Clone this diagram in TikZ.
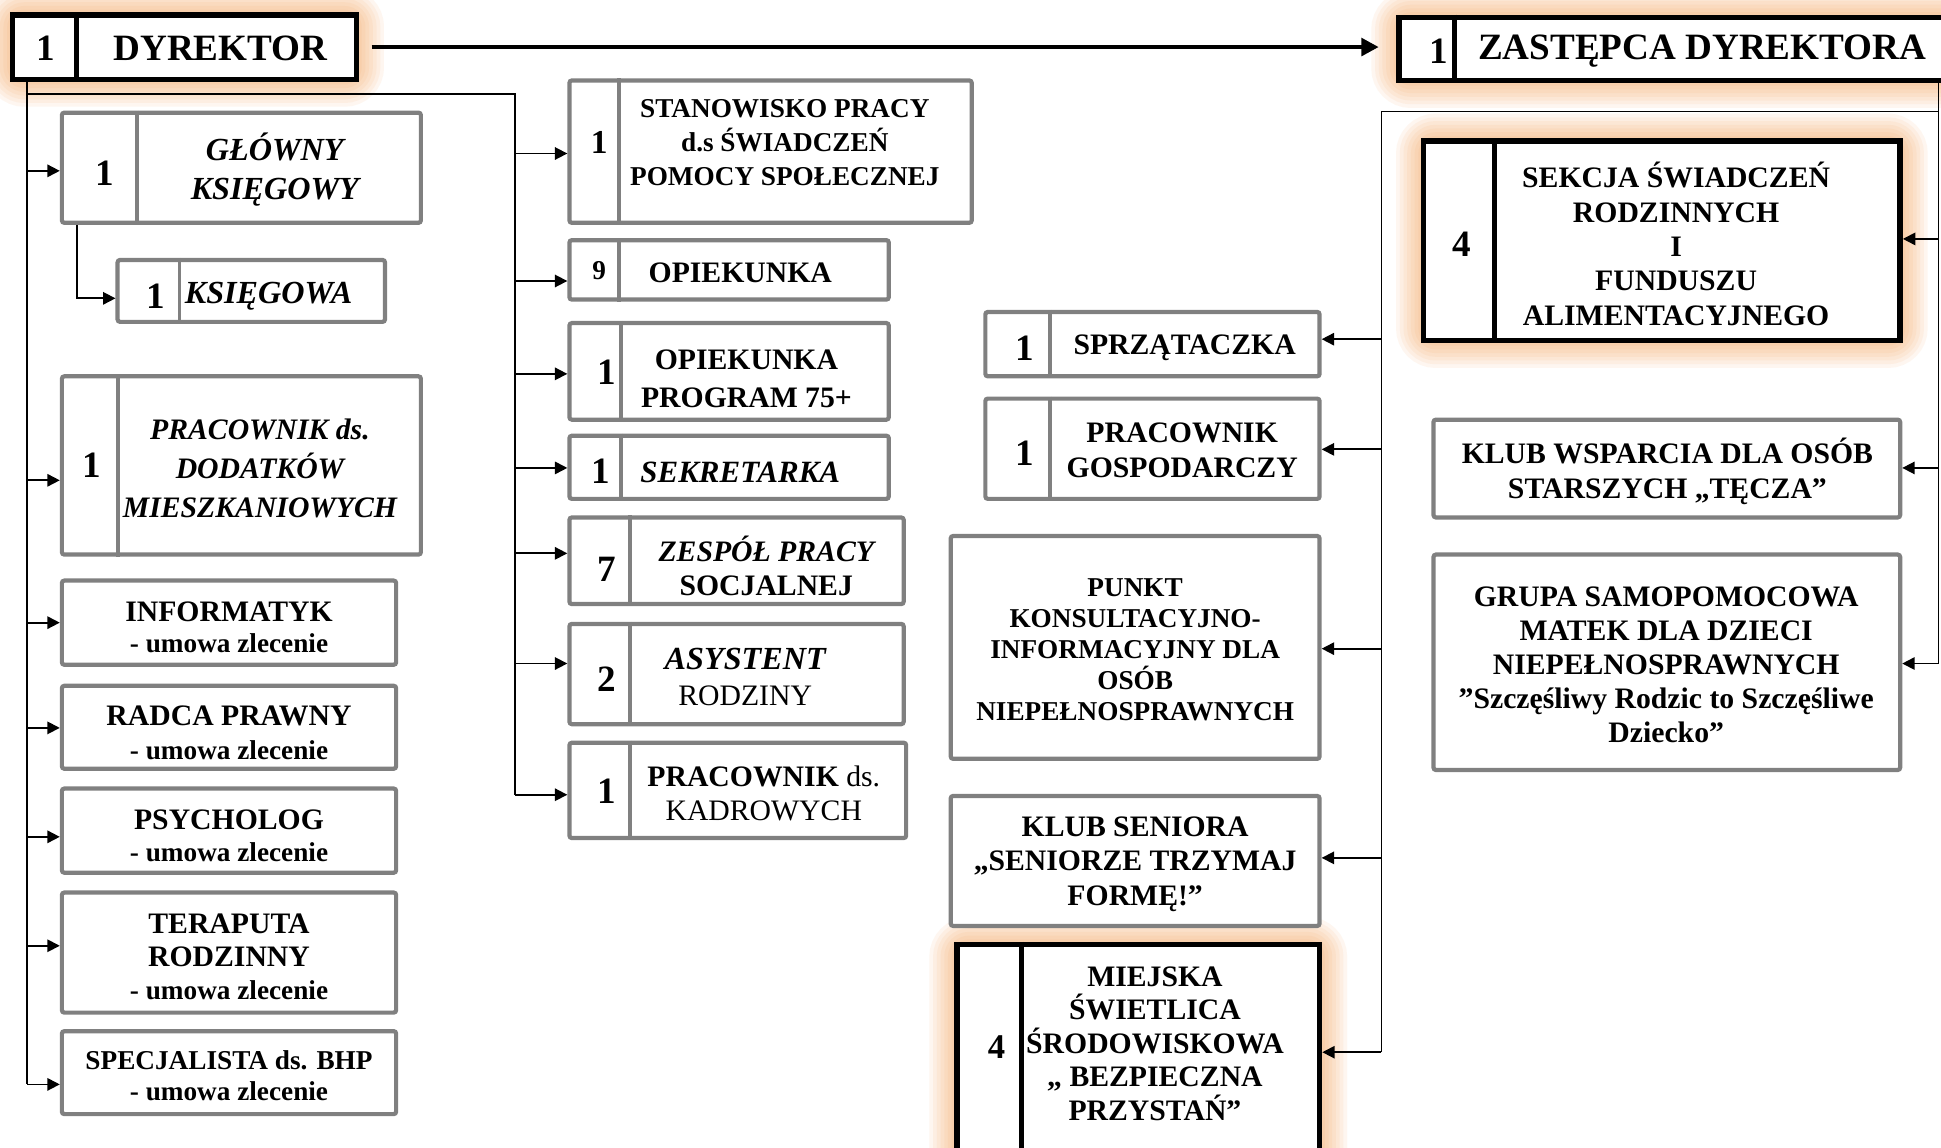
\documentclass[tikz,border=0pt]{standalone}
\usepackage{fontspec}
\setmainfont{Liberation Serif}
\usetikzlibrary{arrows.meta,backgrounds,calc}
\definecolor{bgray}{RGB}{128,128,128}
\definecolor{glowc}{RGB}{247,150,70}
\tikzset{
  gbox/.style={draw=bgray, line width=1.7pt, fill=white, rounded corners=1pt, inner sep=0pt},
  kbox/.style={draw=black, line width=2.2pt, fill=white, inner sep=0pt},
  divg/.style={draw=bgray, line width=1.6pt},
  divk/.style={draw=black, line width=2pt},
  txt/.style={align=center, inner sep=0pt, font=\bfseries\fontsize{12}{14}\selectfont},
  num/.style={inner sep=0pt, font=\bfseries\fontsize{15}{15}\selectfont},
  conn/.style={draw=black, line width=0.7pt},
  arr/.style={conn, -{Triangle[length=5pt,width=5pt]}},
  bigarr/.style={draw=black, line width=1.8pt, -{Triangle[length=7pt,width=7pt]}},
}
\newcommand\mkbox[6]{\node[#2, minimum width={(#5-#3)*0.5pt}, minimum height={(#6-#4)*0.5pt}] (#1) at ({(#3+#5)/2},{(#4+#6)/2}) {};}
\newcommand\dvd[3]{\path (#2,0) coordinate (tmpx); \draw[#3] (#1.north -| tmpx) -- (#1.south -| tmpx);}
\newcommand\glowbox[1]{\begin{pgfonlayer}{background}\foreach \w in {20,17,14,11,8,5,2}{\draw[glowc, line width=\w pt, opacity=0.08, rounded corners=6pt] (#1.north west) rectangle (#1.south east);}\end{pgfonlayer}}
\newcommand\arrW[3]{\path (0,#3) coordinate (tmp); \draw[arr] (#1 |- tmp) -- (#2.west |- tmp);}
\newcommand\arrE[3]{\path (0,#3) coordinate (tmp); \draw[arr] (#1 |- tmp) -- (#2.east |- tmp);}
\begin{document}
\begin{tikzpicture}[x=0.5pt,y=-0.5pt]
\useasboundingbox (0,0) rectangle (1568,927);
\begin{pgfonlayer}{background}
\fill[white] (0,0) rectangle (1568,927);
\end{pgfonlayer}
\coordinate (xL) at (22,0);
\coordinate (xK) at (62,0);
\coordinate (xM) at (416,0);
\coordinate (xR) at (1116,0);
\coordinate (xRR) at (1566,0);
\coordinate (y76) at (0,76);
\coordinate (y90) at (0,90);

% ---------- top ----------
\mkbox{dyr}{kbox}{10}{12}{288}{64}
\glowbox{dyr}
\dvd{dyr}{62}{divk}
\node[num] (dyr-n) at (37,39) {1};
\node[txt, font=\bfseries\fontsize{15}{15}\selectfont] (dyr-t) at (178,39) {DYREKTOR};

\mkbox{zas}{kbox}{1130}{14}{1600}{65}
\glowbox{zas}
\dvd{zas}{1175}{divk}
\node[num] (zas-n) at (1162,41) {1};
\node[txt, font=\bfseries\fontsize{15}{15}\selectfont] (zas-t) at (1375,41) {ZASTĘPCA DYREKTORA};

\draw[bigarr, shorten <=5pt, shorten >=7pt] (dyr.east) -- (dyr.east -| zas.west);

% ---------- left column ----------
\mkbox{gk}{gbox}{50}{91}{340}{180}
\dvd{gk}{111}{divg}
\node[num] (gk-n) at (85,140) {1};
\node[txt, font=\bfseries\itshape\fontsize{13}{15.5}\selectfont] (gk-t) at (222,137) {GŁÓWNY\\KSIĘGOWY};

\mkbox{ks}{gbox}{95}{210}{311}{260}
\dvd{ks}{145}{divg}
\node[num] (ks-n) at (126,239) {1};
\node[txt, font=\bfseries\itshape\fontsize{13}{15}\selectfont] (ks-t) at (217,239) {KSIĘGOWA};

\mkbox{pdm}{gbox}{50}{304}{340}{448}
\dvd{pdm}{95}{divg}
\node[num] (pdm-n) at (74,376) {1};
\node[txt, font=\bfseries\itshape\fontsize{12}{15.75}\selectfont] (pdm-t) at (210,378) {PRACOWNIK ds.\\DODATKÓW\\MIESZKANIOWYCH};

\mkbox{inf}{gbox}{50}{469}{320}{537}
\node[txt, font=\bfseries\fontsize{12}{12.5}\selectfont] (inf-t) at (185,507) {INFORMATYK\\{\fontsize{11}{12.5}\selectfont - umowa zlecenie}};

\mkbox{rad}{gbox}{50}{554}{320}{621}
\node[txt, font=\bfseries\fontsize{12}{13.5}\selectfont] (rad-t) at (185,592) {RADCA PRAWNY\\{\fontsize{11}{13.5}\selectfont - umowa zlecenie}};

\mkbox{psy}{gbox}{50}{637}{320}{705}
\node[txt, font=\bfseries\fontsize{12}{13}\selectfont] (psy-t) at (185,675) {PSYCHOLOG\\{\fontsize{11}{13}\selectfont - umowa zlecenie}};

\mkbox{ter}{gbox}{50}{721}{320}{818}
\node[txt, font=\bfseries\fontsize{12}{13.5}\selectfont] (ter-t) at (185,773) {TERAPUTA\\RODZINNY\\{\fontsize{11}{13.5}\selectfont - umowa zlecenie}};

\mkbox{bhp}{gbox}{50}{833}{320}{900}
\node[txt, font=\bfseries\fontsize{11}{12.5}\selectfont] (bhp-t) at (185,869) {SPECJALISTA ds. BHP\\- umowa zlecenie};

% left connectors
\path (0,876) coordinate (bhpY);
\draw[conn] (dyr.south -| xL) -- (xL |- bhpY);
\arrW{xL}{gk}{138}
\arrW{xL}{pdm}{388}
\arrW{xL}{inf}{503}
\arrW{xL}{rad}{588}
\arrW{xL}{psy}{676}
\arrW{xL}{ter}{764}
\arrW{xL}{bhp}{876}
\path (0,241) coordinate (ksY);
\draw[arr] (gk.south -| xK) |- (ks.west |- ksY);

% ---------- middle column ----------
\mkbox{stan}{gbox}{460}{65}{785}{180}
\dvd{stan}{500}{divg}
\node[num, font=\bfseries\fontsize{13.5}{14}\selectfont] (stan-n) at (484,115) {1};
\node[txt, font=\bfseries\fontsize{11}{13.75}\selectfont] (stan-t) at (634,115) {STANOWISKO PRACY\\d.s ŚWIADCZEŃ\\POMOCY SPOŁECZNEJ};

\mkbox{op9}{gbox}{460}{194}{718}{242}
\dvd{op9}{500}{divg}
\node[num, font=\bfseries\fontsize{11}{12}\selectfont] (op9-n) at (484,219) {9};
\node[txt] (op9-t) at (598,220) {OPIEKUNKA};

\mkbox{op75}{gbox}{460}{261}{718}{339}
\dvd{op75}{502}{divg}
\node[num] (op75-n) at (490,301) {1};
\node[txt, font=\bfseries\fontsize{12}{15}\selectfont] (op75-t) at (603,306) {OPIEKUNKA\\PROGRAM 75+};

\mkbox{sek}{gbox}{460}{352}{718}{403}
\dvd{sek}{502}{divg}
\node[num] (sek-n) at (485,381) {1};
\node[txt, font=\bfseries\itshape\fontsize{12.5}{14}\selectfont] (sek-t) at (598,382) {SEKRETARKA};

\mkbox{zes}{gbox}{460}{418}{730}{488}
\dvd{zes}{509}{divg}
\node[num] (zes-n) at (490,460) {7};
\node[txt, font=\bfseries\fontsize{12}{13.5}\selectfont] (zes-t) at (619,457) {{\itshape ZESPÓŁ PRACY}\\SOCJALNEJ};

\mkbox{asy}{gbox}{460}{504}{730}{585}
\dvd{asy}{509}{divg}
\node[num] (asy-n) at (490,549) {2};
\node[txt, font=\bfseries\fontsize{12}{14.5}\selectfont] (asy-t) at (602,547) {{\itshape\fontsize{13}{14.5}\selectfont ASYSTENT}\\{\mdseries RODZINY}};

\mkbox{kad}{gbox}{460}{600}{732}{677}
\dvd{kad}{509}{divg}
\node[num] (kad-n) at (490,639) {1};
\node[txt, font=\bfseries\fontsize{12}{14}\selectfont] (kad-t) at (617,641) {PRACOWNIK{\mdseries{} ds.}\\{\mdseries KADROWYCH}};

% middle connectors
\path (0,642) coordinate (kadY);
\draw[conn] (xL |- y76) -- (xM |- y76) -- (xM |- kadY);
\arrW{xM}{stan}{124}
\arrW{xM}{op9}{227}
\arrW{xM}{op75}{302}
\arrW{xM}{sek}{378}
\arrW{xM}{zes}{447}
\arrW{xM}{asy}{536}
\arrW{xM}{kad}{642}

% ---------- right-middle column ----------
\mkbox{spr}{gbox}{796}{252}{1066}{304}
\dvd{spr}{848}{divg}
\node[num] (spr-n) at (828,281) {1};
\node[txt] (spr-t) at (957,281) {SPRZĄTACZKA};

\mkbox{gos}{gbox}{796}{322}{1066}{403}
\dvd{gos}{848}{divg}
\node[num] (gos-n) at (828,366) {1};
\node[txt] (gos-t) at (955,364) {PRACOWNIK\\GOSPODARCZY};

\mkbox{pun}{gbox}{768}{433}{1066}{613}
\node[txt, font=\bfseries\fontsize{11}{12.5}\selectfont] (pun-t) at (917,525) {PUNKT\\KONSULTACYJNO-\\INFORMACYJNY DLA\\OSÓB\\NIEPEŁNOSPRAWNYCH};

\mkbox{ksen}{gbox}{768}{643}{1066}{748}
\node[txt] (ksen-t) at (917,698) {KLUB SENIORA\\„SENIORZE TRZYMAJ\\FORMĘ!”};

\mkbox{mie}{kbox}{773}{763}{1066}{950}
\glowbox{mie}
\dvd{mie}{825}{divk}
\node[num, font=\bfseries\fontsize{14}{14}\selectfont] (mie-n) at (805,846) {4};
\node[txt, font=\bfseries\fontsize{12}{13.5}\selectfont] (mie-t) at (933,843) {MIEJSKA\\ŚWIETLICA\\ŚRODOWISKOWA\\„ BEZPIECZNA\\PRZYSTAŃ”};

% ---------- right column ----------
\mkbox{sekc}{kbox}{1150}{114}{1535}{275}
\glowbox{sekc}
\dvd{sekc}{1207}{divk}
\node[num] (sekc-n) at (1181,197) {4};
\node[txt, font=\bfseries\fontsize{12}{13.9}\selectfont] (sekc-t) at (1354,197) {SEKCJA ŚWIADCZEŃ\\RODZINNYCH\\I\\FUNDUSZU\\ALIMENTACYJNEGO};

\mkbox{kwsp}{gbox}{1158}{339}{1535}{418}
\node[txt] (kwsp-t) at (1347,381) {KLUB WSPARCIA DLA OSÓB\\STARSZYCH „TĘCZA”};

\mkbox{gru}{gbox}{1158}{448}{1535}{622}
\node[txt, font=\bfseries\fontsize{12}{13.75}\selectfont] (gru-t) at (1346,537) {GRUPA SAMOPOMOCOWA\\MATEK DLA DZIECI\\NIEPEŁNOSPRAWNYCH\\”Szczęśliwy Rodzic to Szczęśliwe\\Dziecko”};

% right connectors
\path (0,850) coordinate (mieY);
\path (0,536) coordinate (gruY);
\draw[conn] (zas.south -| xRR) -- (xRR |- gruY);
\draw[conn] (xRR |- y90) -- (xR |- y90) -- (xR |- mieY);
\arrE{xR}{spr}{274}
\arrE{xR}{gos}{363}
\arrE{xR}{pun}{524}
\arrE{xR}{ksen}{693}
\arrE{xR}{mie}{850}
\arrE{xRR}{sekc}{193}
\arrE{xRR}{kwsp}{378}
\arrE{xRR}{gru}{536}
\end{tikzpicture}
\end{document}
